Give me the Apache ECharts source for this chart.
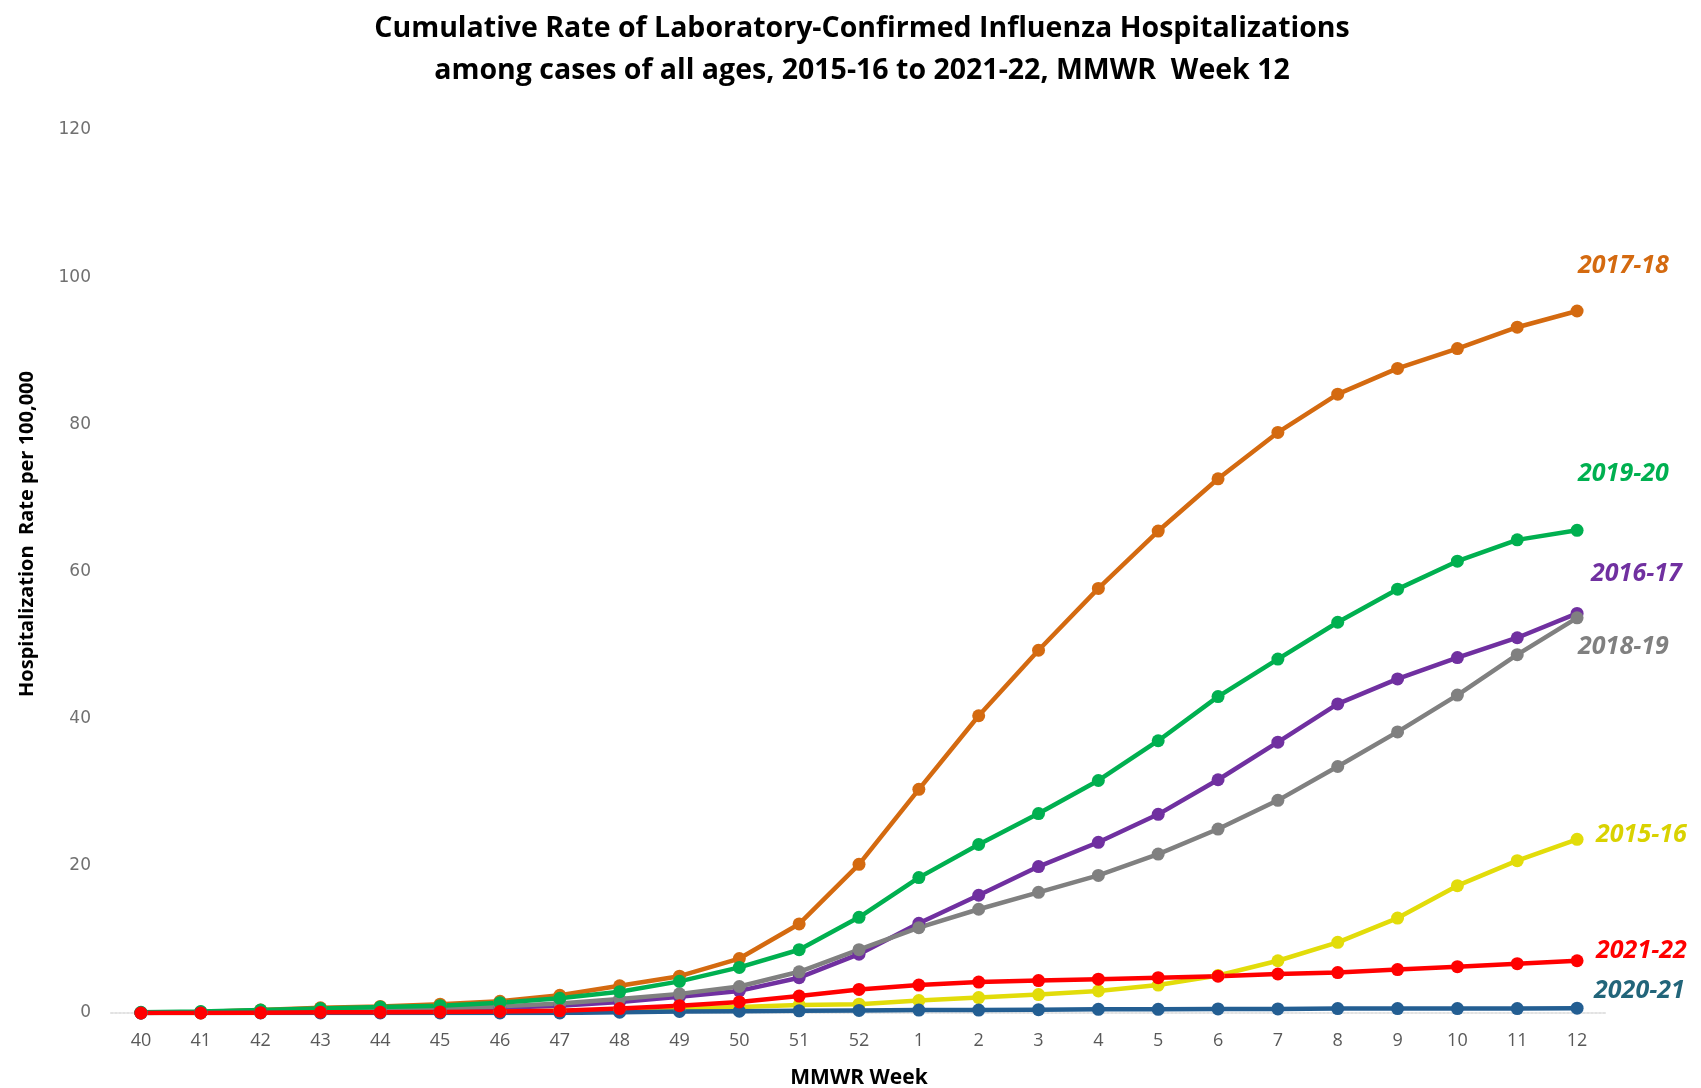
<!DOCTYPE html>
<html>
<head>
<meta charset="utf-8">
<script src="https://cdn.jsdelivr.net/npm/echarts@6/dist/echarts.min.js"></script>
<style>
html,body{margin:0;padding:0;background:#fff;}
#chart{width:1701px;height:1088px;}
</style>
</head>
<body>
<div id="chart"></div>
<script>
const weeks = ['40','41','42','43','44','45','46','47','48','49','50','51','52','1','2','3','4','5','6','7','8','9','10','11','12'];
const yTicks = [0,20,40,60,80,100,120];

const s2015_16 = [0,0,0.05,0.1,0.1,0.15,0.2,0.3,0.4,0.6,0.8,1.1,1.2,1.7,2.1,2.5,3.0,3.8,5.1,7.1,9.6,12.9,17.3,20.7,23.6];
const s2016_17 = [0,0.1,0.2,0.3,0.4,0.5,0.7,1.0,1.5,2.2,3.0,4.8,8.0,12.2,16.0,19.9,23.2,27.0,31.7,36.8,42.0,45.4,48.3,51.0,54.3];
const s2017_18 = [0,0.15,0.4,0.7,0.9,1.2,1.6,2.4,3.7,5.0,7.4,12.1,20.2,30.4,40.4,49.3,57.7,65.5,72.6,78.9,84.1,87.6,90.3,93.2,95.4];
const s2018_19 = [0,0.1,0.2,0.3,0.5,0.6,0.9,1.3,1.9,2.6,3.6,5.6,8.6,11.6,14.1,16.4,18.7,21.6,25.0,28.9,33.5,38.2,43.2,48.7,53.7];
const s2019_20 = [0.1,0.2,0.4,0.6,0.8,1.0,1.4,2.0,2.9,4.3,6.2,8.6,13.0,18.4,22.9,27.1,31.6,37.0,43.0,48.1,53.1,57.6,61.4,64.3,65.6];
const s2020_21 = [0,0,0,0,0,0,0,0,0.1,0.2,0.25,0.3,0.35,0.4,0.4,0.45,0.5,0.5,0.55,0.55,0.6,0.6,0.6,0.6,0.65];
const s2021_22 = [0,0,0.05,0.1,0.1,0.15,0.2,0.3,0.6,1.0,1.5,2.3,3.2,3.8,4.2,4.4,4.6,4.8,5.0,5.3,5.5,5.9,6.3,6.7,7.1];

const seasons = [
  {name:'2015-16', data:s2015_16, color:'#E2DC0A', labelColor:'#D9D200', off:[19,-4]},
  {name:'2016-17', data:s2016_17, color:'#7030A0', labelColor:'#7030A0', off:[14,-40]},
  {name:'2017-18', data:s2017_18, color:'#D46A10', labelColor:'#D46A10', off:[1,-45]},
  {name:'2018-19', data:s2018_19, color:'#808080', labelColor:'#808080', off:[1,29]},
  {name:'2019-20', data:s2019_20, color:'#00B050', labelColor:'#00B050', off:[1,-56]},
  {name:'2020-21', data:s2020_21, color:'#235E92', labelColor:'#22657A', off:[17,-17]},
  {name:'2021-22', data:s2021_22, color:'#FF0000', labelColor:'#FF0000', off:[19,-10]}
];

const chart = echarts.init(document.getElementById('chart'));
chart.setOption({
  animation:false,
  backgroundColor:'#fff',
  title:{
    text:'Cumulative Rate of Laboratory-Confirmed Influenza Hospitalizations\namong cases of all ages, 2015-16 to 2021-22, MMWR  Week 12',
    left:857, top:3, textAlign:'center',
    textStyle:{fontFamily:'Open Sans', fontWeight:'bold', fontSize:28.5, lineHeight:42, color:'#000'}
  },
  graphic:[{
    type:'text', x:27, y:534, rotation:Math.PI/2,
    style:{text:'Hospitalization  Rate per 100,000', fill:'#000', font:'bold 20px "Open Sans"', align:'center', verticalAlign:'middle'}
  }],
  grid:{left:111, right:94, top:130, bottom:75, outerBoundsMode:'none', containLabel:false},
  xAxis:{
    type:'category', data:weeks, boundaryGap:true,
    name:'MMWR Week', nameLocation:'middle', nameGap:55,
    nameTextStyle:{fontFamily:'Open Sans', fontWeight:'bold', fontSize:21, color:'#000'},
    axisLine:{lineStyle:{color:'#e2e2e2', type:'dotted', width:2}},
    axisTick:{show:false},
    axisLabel:{color:'#595959', fontFamily:'Open Sans', fontSize:18, margin:19}
  },
  yAxis:{
    type:'value', min:0, max:120, interval:20,
    axisLine:{show:false}, axisTick:{show:false}, splitLine:{show:false},
    axisLabel:{color:'#707070', fontFamily:'DejaVu Sans', fontSize:17, margin:20}
  },
  series: seasons.map(s => ({
    name:s.name, type:'line', data:s.data,
    symbol:'circle', symbolSize:13,
    lineStyle:{width:4.5, color:s.color},
    itemStyle:{color:s.color},
    endLabel:{
      show:true, formatter:s.name, distance:0, offset:s.off, align:'left',
      color:s.labelColor, fontFamily:'Open Sans', fontWeight:'bold', fontStyle:'italic', fontSize:25
    }
  }))
});
</script>
</body>
</html>
